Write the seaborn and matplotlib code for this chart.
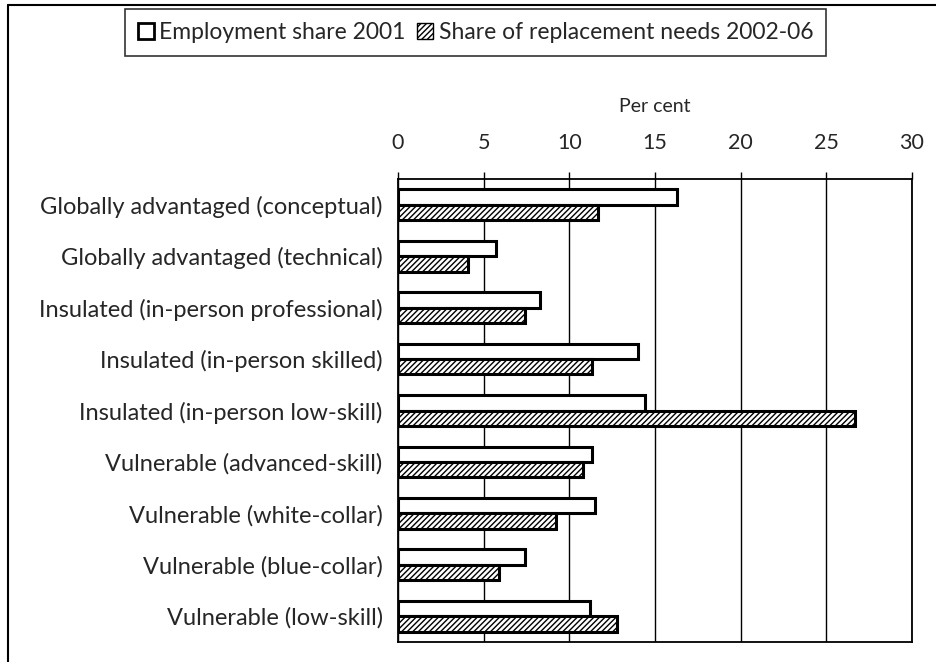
import pandas as pd
import matplotlib.pyplot as plt
import seaborn as sns
from matplotlib.patches import Patch

# data
categories = [
    'Globally advantaged (conceptual)',
    'Globally advantaged (technical)',
    'Insulated (in-person professional)',
    'Insulated (in-person skilled)',
    'Insulated (in-person low-skill)',
    'Vulnerable (advanced-skill)',
    'Vulnerable (white-collar)',
    'Vulnerable (blue-collar)',
    'Vulnerable (low-skill)',
]
employment_2001 = [16.3, 5.7, 8.3, 14.0, 14.4, 11.3, 11.5, 7.4, 11.2]
replacement_2002_06 = [11.7, 4.1, 7.4, 11.3, 26.7, 10.8, 9.2, 5.9, 12.8]
series_names = ['Employment share 2001', 'Share of replacement needs 2002-06']
xticks = [0, 5, 10, 15, 20, 25, 30]

df = pd.DataFrame({
    'category': categories * 2,
    'value': employment_2001 + replacement_2002_06,
    'series': [series_names[0]] * len(categories) + [series_names[1]] * len(categories),
})

sns.set_style('white')
plt.rcParams['font.family'] = ['Lato', 'DejaVu Sans']
plt.rcParams['hatch.linewidth'] = 1.0

W, H = 937, 662
fig = plt.figure(figsize=(W / 100, H / 100), dpi=100)
ax = fig.add_axes([398 / W, 1 - 642 / H, 514 / W, (642 - 179) / H])

sns.barplot(data=df, y='category', x='value', hue='series', orient='h',
            palette=['white', 'white'], width=0.6, gap=0.0, dodge=True,
            edgecolor='black', linewidth=2.2, saturation=1, legend=False, ax=ax)

# hatch the second series
n = len(categories)
for i, bar in enumerate(ax.patches):
    if n <= i < 2 * n:
        bar.set_hatch('//////')

ax.set_xlim(0, 30)
ax.set_xticks(xticks)
ax.xaxis.tick_top()
ax.xaxis.set_label_position('top')
ax.set_xlabel('Per cent', fontsize=14, labelpad=15)
ax.set_ylabel('')
ax.tick_params(axis='x', labelsize=15.5, length=5, width=1, color='black', pad=14)
ax.tick_params(axis='y', labelsize=17, length=0, pad=11)
ax.grid(axis='x', color='black', linewidth=1)
ax.set_axisbelow(True)
for s in ax.spines.values():
    s.set_color('black')
    s.set_linewidth(1.3)

# legend box at the top
handles = [Patch(facecolor='white', edgecolor='black', linewidth=2.0),
           Patch(facecolor='white', edgecolor='black', linewidth=1.0, hatch='//////')]
fig.legend(handles, series_names, loc='center', bbox_to_anchor=(475.5 / W, 1 - 32.5 / H),
           ncol=2, fontsize=16.5, frameon=True, fancybox=False, edgecolor='black',
           handlelength=0.7, handleheight=0.7, handletextpad=0.25, columnspacing=0.5,
           borderpad=0.55, borderaxespad=0).get_frame().set_linewidth(1.2)

# partial outer frame (top and left)
fig.add_artist(plt.Line2D([8 / W, 8 / W], [0, 1 - 5 / H], color='black', linewidth=1.5))
fig.add_artist(plt.Line2D([8 / W, 1.0], [1 - 5 / H, 1 - 5 / H], color='black', linewidth=1.5))

plt.savefig('out.png', dpi=100)
plt.close()
